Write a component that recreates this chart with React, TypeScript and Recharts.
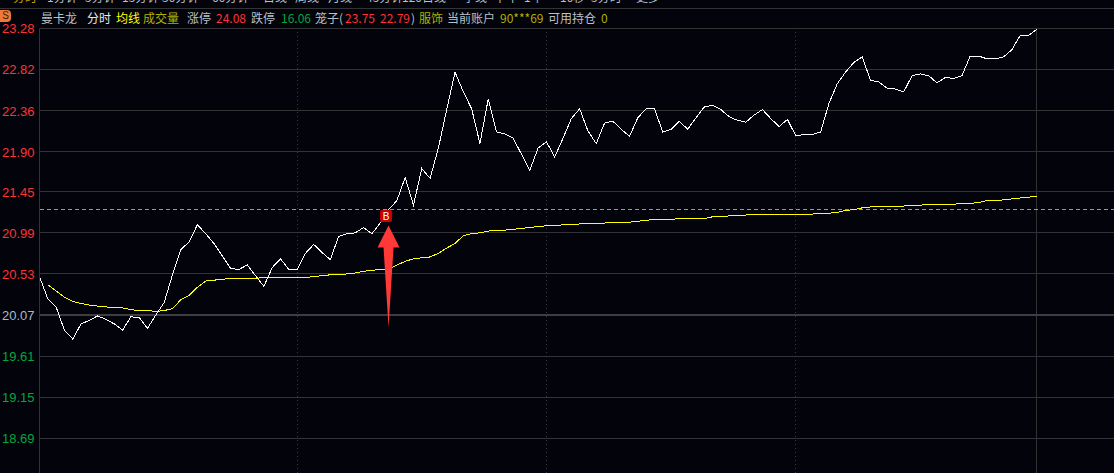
import React from "react";
import {
  ComposedChart,
  CartesianGrid,
  Line,
  ReferenceDot,
  ReferenceLine,
  XAxis,
  YAxis,
} from "recharts";

// close price per minute
const prices = [
  20.5, 20.25, 20.16, 19.9, 19.8, 19.97, 20.01, 20.06, 20.02, 19.97, 19.9,
  20.05, 20.04, 19.92, 20.07, 20.21, 20.52, 20.8, 20.89, 21.08, 20.98, 20.87,
  20.73, 20.59, 20.58, 20.63, 20.51, 20.39, 20.6, 20.7, 20.58, 20.58, 20.76,
  20.86, 20.77, 20.69, 20.95, 20.98, 20.99, 21.05, 20.98, 21.1, 21.25, 21.35,
  21.61, 21.3, 21.71, 21.6, 21.94, 22.37, 22.79, 22.57, 22.38, 21.99, 22.49,
  22.12, 22.1, 22.05, 21.87, 21.69, 21.94, 22.01, 21.84, 22.05, 22.27, 22.38,
  22.13, 21.99, 22.22, 22.24, 22.15, 22.07, 22.28, 22.38, 22.38, 22.12, 22.15,
  22.24, 22.15, 22.28, 22.4, 22.42, 22.37, 22.29, 22.25, 22.23, 22.31, 22.37,
  22.27, 22.18, 22.26, 22.08, 22.09, 22.09, 22.12, 22.44, 22.66, 22.79, 22.9,
  22.96, 22.7, 22.68, 22.61, 22.6, 22.57, 22.75, 22.77, 22.75, 22.67, 22.73,
  22.72, 22.75, 22.97, 22.97, 22.94, 22.94, 22.96, 23.04, 23.2, 23.2, 23.27,
];

// average line, it starts one minute late
const averages = [
  null, 20.41, 20.34, 20.27, 20.22, 20.2, 20.18, 20.17, 20.16, 20.15, 20.15,
  20.13, 20.12, 20.12, 20.11, 20.12, 20.14, 20.24, 20.29, 20.38, 20.45, 20.46,
  20.47, 20.48, 20.48, 20.48, 20.48, 20.49, 20.49, 20.49, 20.49, 20.49, 20.49,
  20.5, 20.51, 20.52, 20.52, 20.53, 20.54, 20.56, 20.57, 20.58, 20.58, 20.63,
  20.67, 20.7, 20.71, 20.72, 20.76, 20.82, 20.87, 20.96, 20.98, 20.99, 21.01,
  21.02, 21.02, 21.03, 21.04, 21.05, 21.06, 21.07, 21.07, 21.08, 21.08, 21.09,
  21.1, 21.1, 21.1, 21.11, 21.11, 21.11, 21.12, 21.13, 21.14, 21.14, 21.14,
  21.15, 21.15, 21.15, 21.15, 21.17, 21.17, 21.18, 21.18, 21.19, 21.19, 21.19,
  21.19, 21.2, 21.2, 21.2, 21.2, 21.2, 21.21, 21.21, 21.22, 21.24, 21.25,
  21.27, 21.28, 21.29, 21.29, 21.29, 21.29, 21.3, 21.3, 21.31, 21.31, 21.31,
  21.31, 21.32, 21.32, 21.33, 21.35, 21.35, 21.36, 21.37, 21.38, 21.39, 21.4,
];

const priceTicks = [
  23.28, 22.82, 22.36, 21.9, 21.45, 20.99, 20.53, 20.07, 19.61, 19.15, 18.69,
];
const sessionMarks = [31, 61, 91];
const periodTabs = [
  "分时", "1分钟", "5分钟", "15分钟", "30分钟", "60分钟", "日线", "周线",
  "月线", "45分钟", "120日线", "季线", "半年", "1年", "10秒", "5分时", "更多",
];
const tabLefts = [
  13, 47, 85, 122, 162, 212, 263, 295, 328, 366, 402, 463, 494, 524, 560, 591,
  636,
];

const PRE_CLOSE = 20.07;
const COST_LINE = 21.25;
const BUY_MINUTE = 42;
const BADGE_MINUTE = 41.7;
const BADGE_PRICE = 21.18;
const ARROW_TAIL_PRICE = 19.93;

const chartData = prices.map((price, minute) => ({
  minute,
  price,
  avg: averages[minute],
}));

const BG = "#03030c";
const GRID = "#333336";
const RED = "#ff3232";
const GREEN = "#00a83c";
const GRAY = "#b8c0c8";
const OLIVE = "#b0b000";
const FONT = '"Noto Sans CJK SC", "Noto Sans", sans-serif';

function PriceTick({ x, y, payload }: any) {
  const v = payload.value;
  const color = v > PRE_CLOSE ? RED : v < PRE_CLOSE ? GREEN : "#a8bcc8";
  return (
    <text
      x={x + 1}
      y={y}
      dy={5}
      textAnchor="end"
      fill={color}
      fontSize={13}
      fontFamily='"Liberation Sans", Arial, sans-serif'
    >
      {v.toFixed(2)}
    </text>
  );
}

function Arrow({ cx, cy }: any) {
  // cy is the tail of the arrow
  const d = `M${cx} ${cy} L${cx - 5} ${cy - 80} L${cx - 11} ${cy - 80} L${cx} ${cy - 102} L${cx + 11} ${cy - 80} L${cx + 5} ${cy - 80} Z`;
  return <path d={d} fill="#ff3838" />;
}

function BuyBadge({ cx, cy }: any) {
  return (
    <g>
      <rect x={cx - 6} y={cy - 6} width={12} height={12} rx={2} fill="#c80000" />
      <text
        x={cx}
        y={cy + 4}
        textAnchor="middle"
        fill="#fff"
        fontSize={10}
        fontFamily='"Liberation Sans", Arial, sans-serif'
      >
        B
      </text>
    </g>
  );
}

function Label({ x, color, children }: any) {
  return (
    <span
      style={{
        position: "absolute",
        left: x,
        top: 9,
        fontSize: 12,
        lineHeight: "18px",
        color,
        fontFamily: FONT,
        whiteSpace: "pre",
      }}
    >
      {children}
    </span>
  );
}

export default function App() {
  return (
    <div
      style={{
        position: "fixed",
        left: 0,
        top: 0,
        width: 1114,
        height: 473,
        background: BG,
        overflow: "hidden",
      }}
    >
      {/* period tabs, only their lower edge is in the frame */}
      <div
        style={{
          position: "absolute",
          left: 0,
          top: 0,
          width: 700,
          height: 6,
          overflow: "hidden",
        }}
      >
        {periodTabs.map((tab, i) => (
          <span
            key={tab}
            style={{
              position: "absolute",
              left: tabLefts[i],
              top: -12,
              fontSize: 12,
              lineHeight: "18px",
              fontFamily: FONT,
              whiteSpace: "pre",
              color: i === 0 ? "#c8a000" : GRAY,
            }}
          >
            {tab}
          </span>
        ))}
      </div>
      <div
        style={{
          position: "absolute",
          left: 0,
          top: 8,
          width: 1114,
          height: 1,
          background: GRID,
        }}
      />

      <div
        style={{
          position: "absolute",
          left: 0,
          top: 10,
          width: 11,
          height: 12,
          borderRadius: "0 4px 4px 0",
          background: "#f07838",
          color: "#402010",
          fontSize: 10,
          lineHeight: "12px",
          textAlign: "center",
          fontFamily: '"Liberation Sans", Arial, sans-serif',
        }}
      >
        S
      </div>
      <Label x={41} color={GRAY}>曼卡龙</Label>
      <Label x={87} color="#e8e8e8">分时</Label>
      <Label x={116} color="#ffff00">均线</Label>
      <Label x={143} color={OLIVE}>成交量</Label>
      <Label x={187} color={GRAY}>涨停</Label>
      <Label x={216} color={RED}>24.08</Label>
      <Label x={251} color={GRAY}>跌停</Label>
      <Label x={281} color={GREEN}>16.06</Label>
      <Label x={315} color={GRAY}>笼子(</Label>
      <Label x={345} color={RED}>23.75</Label>
      <Label x={380} color={RED}>22.79</Label>
      <Label x={411} color={GRAY}>)</Label>
      <Label x={419} color={OLIVE}>服饰</Label>
      <Label x={447} color={GRAY}>当前账户</Label>
      <Label x={500} color={OLIVE}>90***69</Label>
      <Label x={548} color={GRAY}>可用持仓</Label>
      <Label x={601} color={OLIVE}>0</Label>

      <ComposedChart
        width={1114}
        height={473}
        data={chartData}
        margin={{ top: 28.4, right: 0, bottom: 0, left: 0 }}
        style={{ position: "absolute", left: 0, top: 0 }}
      >
        <CartesianGrid
          vertical={false}
          stroke={GRID}
          shapeRendering="crispEdges"
        />
        <XAxis
          dataKey="minute"
          type="number"
          domain={[0, 129.3]}
          hide
        />
        <YAxis
          width={39.5}
          domain={[18.3, 23.28]}
          ticks={priceTicks}
          interval={0}
          tick={<PriceTick />}
          tickLine={false}
          axisLine={{ stroke: GRID }}
          tickMargin={0}
          allowDataOverflow
        />
        {sessionMarks.map((m) => (
          <ReferenceLine
            key={m}
            x={m}
            stroke="#3a3a3e"
            strokeDasharray="1 3"
            shapeRendering="crispEdges"
          />
        ))}
        <ReferenceLine x={120} stroke={GRID} shapeRendering="crispEdges" />
        <ReferenceLine
          y={PRE_CLOSE}
          stroke="#3e3e42"
          strokeWidth={2}
          shapeRendering="crispEdges"
        />
        <ReferenceLine
          y={COST_LINE}
          stroke="#e08a20"
          strokeDasharray="4 3"
          shapeRendering="crispEdges"
        />
        <Line
          dataKey="avg"
          stroke="#ffff00"
          strokeWidth={1}
          dot={false}
          type="linear"
          shapeRendering="crispEdges"
          isAnimationActive={false}
        />
        <Line
          dataKey="price"
          stroke="#ffffff"
          strokeWidth={1}
          dot={false}
          type="linear"
          shapeRendering="crispEdges"
          isAnimationActive={false}
        />
        <ReferenceDot
          x={BUY_MINUTE}
          y={ARROW_TAIL_PRICE}
          shape={(p: any) => <Arrow {...p} />}
        />
        <ReferenceDot
          x={BADGE_MINUTE}
          y={BADGE_PRICE}
          shape={(p: any) => <BuyBadge {...p} />}
        />
      </ComposedChart>
    </div>
  );
}
